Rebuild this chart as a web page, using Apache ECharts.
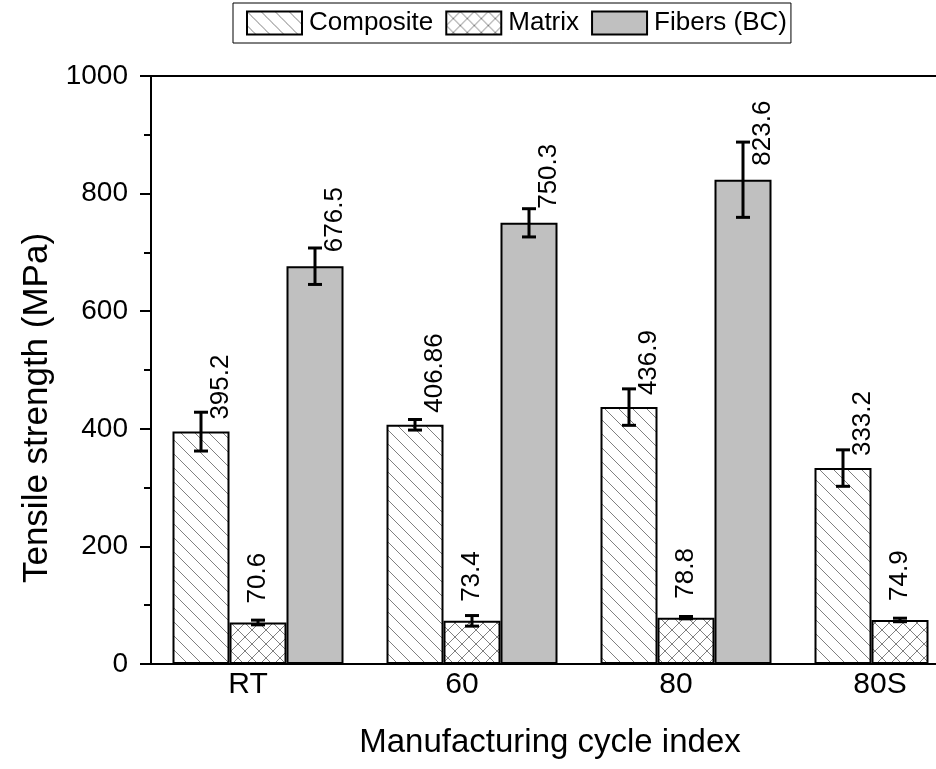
<!DOCTYPE html>
<html>
<head>
<meta charset="utf-8">
<script src="https://cdn.jsdelivr.net/npm/echarts@6/dist/echarts.min.js"></script>
<style>
html,body{margin:0;padding:0;background:#fff;}
#c{width:936px;height:769px;}
</style>
</head>
<body>
<div id="c"></div>
<script>
// ---- data ----
var categories = ['RT', '60', '80', '80S'];
var seriesNames = ['Composite', 'Matrix', 'Fibers (BC)'];
var composite = [395.2, 406.86, 436.9, 333.2];
var matrix = [70.6, 73.4, 78.8, 74.9];
var fibers = [676.5, 750.3, 823.6, null];
var compositeErr = [33, 9, 31, 31];
var matrixErr = [4, 9, 2, 3];
var fibersErr = [31, 24, 64, null];
var yTicks = [0, 200, 400, 600, 800, 1000];

// ---- styles ----
var FONT = '"Liberation Sans", Arial, sans-serif';
var BAR_W = 57;

function makeHatch(kind) {
  var s = 14;
  var c = document.createElement('canvas');
  c.width = s; c.height = s;
  var g = c.getContext('2d');
  g.fillStyle = '#fff';
  g.fillRect(0, 0, s, s);
  g.strokeStyle = '#808080';
  g.lineWidth = 1;
  g.beginPath();
  for (var k = -s; k <= s; k += s) {
    if (kind === 'back' || kind === 'cross') {
      g.moveTo(k, 0); g.lineTo(k + s, s);
    }
    if (kind === 'cross') {
      g.moveTo(k + s, 0); g.lineTo(k, s);
    }
  }
  g.stroke();
  return c;
}

var fills = [
  { image: makeHatch('back'), repeat: 'repeat' },
  { image: makeHatch('cross'), repeat: 'repeat' },
  '#c0c0c0'
];
var values = [composite, matrix, fibers];
var errors = [compositeErr, matrixErr, fibersErr];
var labelShift = [20, 0, 20];
var labelGap = [12, 19, 14];

var series = [];
for (var i = 0; i < 3; i++) {
  series.push({
    name: seriesNames[i],
    type: 'bar',
    barWidth: BAR_W,
    barGap: '0%',
    data: values[i].map(function (v) { return v === null ? '-' : v; }),
    itemStyle: { color: fills[i], borderColor: '#000', borderWidth: 2 },
    label: {
      show: true,
      position: 'top',
      rotate: 90,
      align: 'left',
      verticalAlign: 'middle',
      distance: labelGap[i],
      offset: [0, labelShift[i]],
      fontFamily: FONT,
      fontSize: 26,
      color: '#000'
    },
    emphasis: { disabled: true },
    z: 2
  });
}

for (var j = 0; j < 3; j++) {
  (function (si) {
    var d = [];
    for (var ci = 0; ci < categories.length; ci++) {
      if (values[si][ci] !== null) d.push([ci, values[si][ci], errors[si][ci]]);
    }
    series.push({
      type: 'custom',
      name: seriesNames[si] + ' err',
      data: d,
      z: 5,
      silent: true,
      clip: false,
      renderItem: function (params, api) {
        var cat = api.value(0), v = api.value(1), e = api.value(2);
        var dx = (si - 1) * BAR_W;
        var hi = api.coord([cat, v + e]);
        var lo = api.coord([cat, v - e]);
        var x = hi[0] + dx;
        var cap = 7;
        var st = { stroke: '#000', lineWidth: 3 };
        return {
          type: 'group',
          children: [
            { type: 'line', shape: { x1: x, y1: hi[1], x2: x, y2: lo[1] }, style: st },
            { type: 'line', shape: { x1: x - cap, y1: hi[1], x2: x + cap, y2: hi[1] }, style: st },
            { type: 'line', shape: { x1: x - cap, y1: lo[1], x2: x + cap, y2: lo[1] }, style: st }
          ]
        };
      }
    });
  })(j);
}

var labelPad = { RT: 20, '60': 20, '80': 20, '80S': 40 };

var chart = echarts.init(document.getElementById('c'));
chart.setOption({
  animation: false,
  backgroundColor: '#fff',
  legend: {
    data: seriesNames,
    left: 233,
    top: 3,
    orient: 'horizontal',
    icon: 'rect',
    itemWidth: 55,
    itemHeight: 23,
    itemGap: 12,
    padding: [7, 4, 7, 13],
    borderColor: '#000',
    borderWidth: 1,
    borderRadius: 0,
    selectedMode: false,
    textStyle: { fontFamily: FONT, fontSize: 26, color: '#000', padding: [0, 0, 0, 2] }
  },
  grid: {
    left: 151,
    top: 76,
    width: 856,
    height: 588,
    outerBoundsMode: 'none',
    containLabel: false,
    show: true,
    borderColor: '#000',
    borderWidth: 2,
    backgroundColor: 'transparent'
  },
  xAxis: {
    type: 'category',
    data: categories,
    axisLine: { lineStyle: { color: '#000', width: 2 } },
    axisTick: { show: false },
    axisLabel: {
      margin: 6,
      fontFamily: FONT,
      fontSize: 30,
      color: '#000',
      formatter: function (v) { return '{s' + labelPad[v] + '|' + v + '}'; },
      rich: {
        s20: { fontFamily: FONT, fontSize: 30, color: '#000', padding: [0, 20, 0, 0] },
        s40: { fontFamily: FONT, fontSize: 30, color: '#000', padding: [0, 40, 0, 0] }
      }
    },
    name: 'Manufacturing cycle index',
    nameLocation: 'middle',
    nameGap: 62,
    nameTextStyle: { fontFamily: FONT, fontSize: 33, color: '#000', padding: [0, 58, 0, 0] }
  },
  yAxis: {
    type: 'value',
    min: yTicks[0],
    max: yTicks[yTicks.length - 1],
    interval: 200,
    splitLine: { show: false },
    axisLine: { show: true, lineStyle: { color: '#000', width: 2 } },
    axisTick: { show: true, inside: false, length: 11, lineStyle: { color: '#000', width: 2 } },
    minorTick: { show: true, splitNumber: 2, length: 7, lineStyle: { color: '#000', width: 2 } },
    axisLabel: { margin: 23, fontFamily: FONT, fontSize: 28, color: '#000', formatter: function (v) { return String(v); } },
    name: 'Tensile strength (MPa)',
    nameLocation: 'middle',
    nameGap: 96,
    nameRotate: 90,
    nameTextStyle: { fontFamily: FONT, fontSize: 35, color: '#000', padding: [0, 76, 0, 0] }
  },
  series: series
});
</script>
</body>
</html>
